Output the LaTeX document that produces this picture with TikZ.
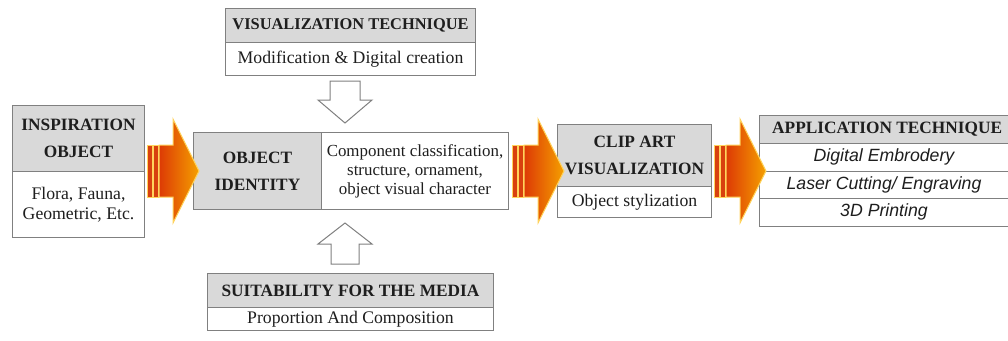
\documentclass[tikz,border=0pt]{standalone}
\usepackage{fontspec}
\setmainfont{Liberation Serif}
\newfontfamily\arialf{Liberation Sans}
\definecolor{hdrgray}{HTML}{D9D9D9}
\definecolor{bordergray}{HTML}{808080}
\definecolor{arrL}{HTML}{DD3A05}
\definecolor{arrR}{HTML}{F5A000}
\definecolor{glow}{HTML}{FFD45C}
\definecolor{stripecol}{HTML}{D8400E}
\definecolor{txt}{HTML}{1E1E1E}
\tikzset{
  cell/.style={draw=bordergray, line width=1pt, rectangle, inner sep=0pt,
    anchor=north west, align=center, text=txt},
  hdr/.style={cell, fill=hdrgray, font=\fontsize{17.3}{27}\selectfont\bfseries},
  bodycell/.style={cell, fill=white, font=\fontsize{17.7}{19.5}\selectfont},
  appcell/.style={cell, fill=white},
  apptext/.style={font=\fontsize{17.7}{20}\arialf\itshape, text=txt},
  hollow/.style={draw=bordergray, line width=1pt, fill=white, line join=miter},
  orstripe/.style={draw=glow, line width=1pt, fill=stripecol},
  orbody/.style={draw=glow, line width=1pt, left color=arrL, right color=arrR},
}
\newcommand\orarrow[2]{%
  \begin{scope}[shift={(#1)}]
    \draw[orstripe] (0,145) rectangle (5,197);
    \draw[orstripe] (6,145) rectangle (11,197);
    \shadedraw[orbody] (12,145) -- (26,145) -- (26,119) -- (52,171)
      -- (26,223) -- (26,197) -- (12,197) -- cycle;
    \coordinate (#2) at (52,171);
  \end{scope}}
\begin{document}
\begin{tikzpicture}[x=1pt,y=-1pt]
\useasboundingbox (0,0) rectangle (1008,340);
\fill[white] (0,0) rectangle (1008,340);

% Inspiration object
\node[hdr, minimum width=132pt, minimum height=66pt] (insph) at (12,105) {INSPIRATION\\OBJECT};
\node[bodycell, minimum width=132pt, minimum height=66pt] (inspb) at (12,171) {Flora, Fauna,\\Geometric, Etc.};

% Object identity
\node[hdr, minimum width=128pt, minimum height=77pt] (objh) at (193,132) {OBJECT\\IDENTITY};
\node[bodycell, minimum width=187pt, minimum height=77pt, font=\fontsize{16.9}{19}\selectfont] (objb) at (321,132) {Component classification,\\structure, ornament,\\object visual character};

% Visualization technique
\node[hdr, minimum width=250pt, minimum height=34pt, font=\fontsize{16.4}{20}\selectfont\bfseries] (vish) at (225,8) {VISUALIZATION TECHNIQUE};
\node[bodycell, minimum width=250pt, minimum height=33pt] (visb) at (225,42) {Modification \& Digital creation};

% Suitability
\node[hdr, minimum width=286pt, minimum height=34pt] (suith) at (207,273) {SUITABILITY FOR THE MEDIA};
\node[bodycell, minimum width=286pt, minimum height=23pt] (suitb) at (207,307) {Proportion And Composition};

% Clip art
\node[hdr, minimum width=154pt, minimum height=62pt] (cliph) at (557,124) {CLIP ART\\VISUALIZATION};
\node[bodycell, minimum width=154pt, minimum height=31pt] (clipb) at (557,186) {Object stylization};

% Application technique
\node[hdr, minimum width=254pt, minimum height=28pt] (apph) at (759,115) {};
\node[font=\fontsize{17.3}{20}\selectfont\bfseries, text=txt, anchor=west, inner sep=0pt] (appht) at (772,129.5) {APPLICATION TECHNIQUE};
\node[appcell, minimum width=254pt, minimum height=28pt] (app1) at (759,143) {};
\node[appcell, minimum width=254pt, minimum height=27pt] (app2) at (759,171) {};
\node[appcell, minimum width=254pt, minimum height=28pt] (app3) at (759,198) {};
\node[apptext] (app1t) at (884,157) {Digital Embrodery};
\node[apptext] (app2t) at (884,184.5) {Laser Cutting/ Engraving};
\node[apptext] (app3t) at (884,212) {3D Printing};

% hollow arrows
\draw[hollow] (330,81) -- (360,81) -- (360,100) -- (372,100) -- (345,123)
  -- (318,100) -- (330,100) -- cycle;
\draw[hollow] (331,264) -- (359,264) -- (359,244) -- (372,244) -- (345,223)
  -- (318,244) -- (331,244) -- cycle;

% orange arrows
\orarrow{147,0}{tipA}
\orarrow{512,0}{tipB}
\orarrow{714,0}{tipC}
\end{tikzpicture}
\end{document}
